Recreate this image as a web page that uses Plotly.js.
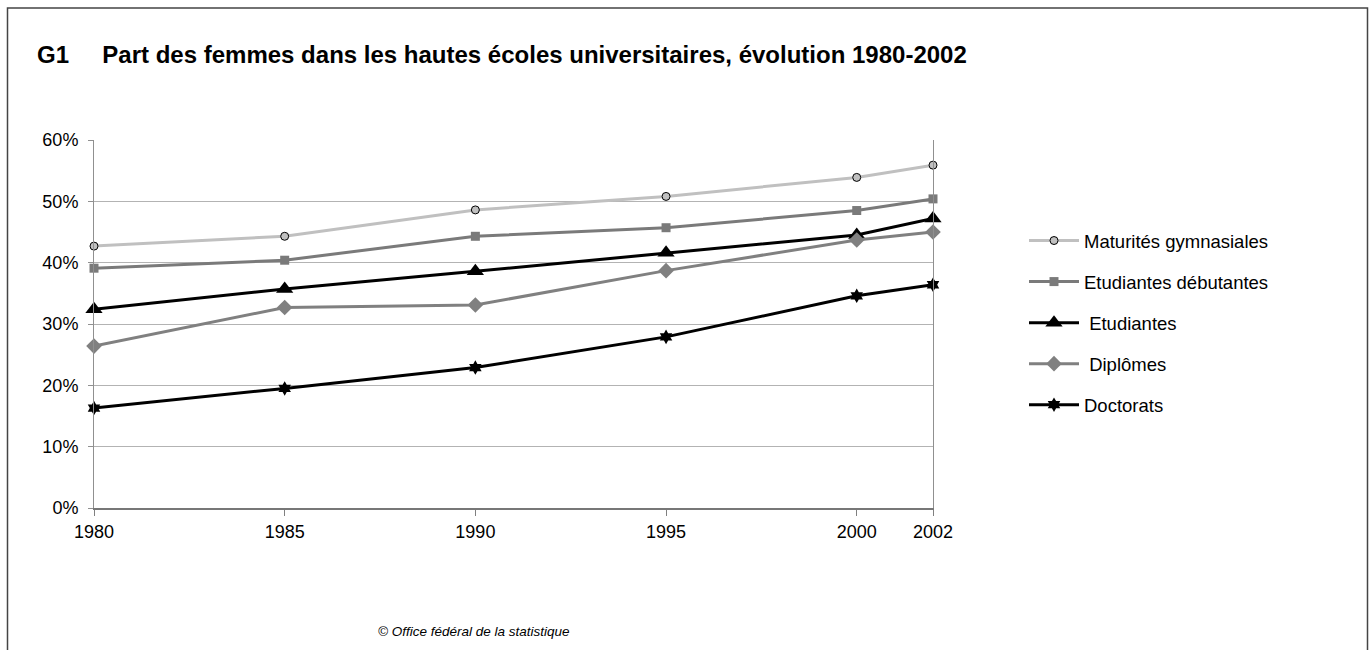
<!DOCTYPE html>
<html>
<head>
<meta charset="utf-8">
<script src="https://cdn.plot.ly/plotly-3.0.1.min.js"></script>
<style>html,body{margin:0;padding:0;background:#fff;}#chart{width:1371px;height:650px;}</style>
</head>
<body>
<div id="chart"></div>
<script>
const years = [1980, 1985, 1990, 1995, 2000, 2002];
const tickLabels = ["1980", "1985", "1990", "1995", "2000", "2002"];
const maturites = [0.427, 0.443, 0.486, 0.508, 0.539, 0.559];
const debutantes = [0.391, 0.404, 0.443, 0.457, 0.485, 0.504];
const etudiantes = [0.324, 0.357, 0.386, 0.416, 0.445, 0.472];
const diplomes = [0.264, 0.327, 0.331, 0.387, 0.437, 0.450];
const doctorats = [0.163, 0.195, 0.229, 0.279, 0.346, 0.364];
const seriesNames = ["Maturités gymnasiales", "Etudiantes débutantes", "\u00A0Etudiantes", "\u00A0Diplômes", "Doctorats"];

const font = "Liberation Sans, Arial, Helvetica, sans-serif";

function tr(y, i, color, symbol, size, mcolor, mline) {
  return {
    x: years, y: y, name: seriesNames[i], type: "scatter", mode: "lines+markers",
    legendgroup: "g" + i, cliponaxis: false,
    line: {color: color, width: 3},
    marker: {symbol: symbol, size: size, color: mcolor, line: mline}
  };
}

const data = [
  tr(maturites, 0, "#c0c0c0", "circle", 8, "#c0c0c0", {color: "#000", width: 1}),
  tr(debutantes, 1, "#7a7a7a", "square", 9, "#7a7a7a", {width: 0}),
  tr(etudiantes, 2, "#000000", "triangle-up", 15, "#000000", {width: 0}),
  tr(diplomes, 3, "#808080", "diamond", 12, "#808080", {width: 0}),
  tr(doctorats, 4, "#000000", "hexagram", 11, "#000000", {width: 0})
];

const layout = {
  width: 1371, height: 650,
  paper_bgcolor: "#fff", plot_bgcolor: "#fff",
  margin: {l: 94, r: 438, t: 140, b: 142},
  font: {family: font, size: 18, color: "#000"},
  title: {
    text: "<b>G1\u00A0\u00A0\u00A0\u00A0\u00A0Part des femmes dans les hautes écoles universitaires, évolution 1980-2002</b>",
    font: {family: font, size: 24, color: "#000"},
    x: 37 / 1371, xanchor: "left", y: 1 - 55 / 650, yanchor: "middle"
  },
  xaxis: {
    range: [1980, 2002], autorange: false,
    tickmode: "array", tickvals: years, ticktext: tickLabels,
    showgrid: false, zeroline: false,
    showline: true, linecolor: "#777777", linewidth: 2,
    ticks: "outside", ticklen: 6, tickcolor: "#808080", tickwidth: 1,
    tickfont: {family: font, size: 18, color: "#000"}
  },
  yaxis: {
    range: [0, 0.6], autorange: false,
    tickvals: [0, 0.1, 0.2, 0.3, 0.4, 0.5, 0.6],
    tickformat: ".0%",
    showgrid: true, gridcolor: "#b3b3b3", gridwidth: 1,
    zeroline: false,
    showline: true, mirror: true, linecolor: "#909090", linewidth: 1,
    ticks: "outside", ticklen: 5, tickcolor: "#909090",
    ticklabelstandoff: 6,
    tickfont: {family: font, size: 18, color: "#000"}
  },
  showlegend: true,
  legend: {
    x: (1024 - 94) / 839, xanchor: "left", y: (508 - 222) / 368, yanchor: "top",
    traceorder: "grouped", tracegroupgap: 14,
    font: {family: font, size: 18.5, color: "#000"},
    bgcolor: "rgba(0,0,0,0)", itemwidth: 50
  },
  shapes: [{
    type: "rect", xref: "paper", yref: "paper",
    x0: (7.5 - 94) / 839, x1: (1367.5 - 94) / 839,
    y0: (508 - 700) / 368, y1: (508 - 8) / 368,
    line: {color: "#444", width: 1.5}, fillcolor: "rgba(0,0,0,0)", layer: "below"
  }],
  annotations: [{
    text: "<i>© Office fédéral de la statistique</i>",
    xref: "paper", yref: "paper", x: (474 - 94) / 839, y: (508 - 631) / 368,
    xanchor: "center", yanchor: "middle", showarrow: false,
    font: {family: font, size: 13.5, color: "#000"}
  }]
};

Plotly.newPlot("chart", data, layout, {displayModeBar: false, staticPlot: true});
</script>
</body>
</html>
